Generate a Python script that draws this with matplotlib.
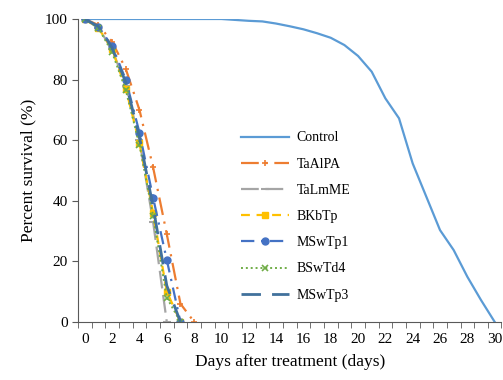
import numpy as np
import matplotlib
matplotlib.use('Agg')
import matplotlib.pyplot as plt

plt.rcParams['font.family'] = ['Liberation Serif', 'DejaVu Serif']

# Survival data (%), one value per day
days = np.arange(0, 31)
control = [100, 100, 100, 100, 100, 100, 100, 100, 100, 100, 100,
           99.7, 99.4, 99.2, 98.5, 97.6, 96.6, 95.3, 93.8, 91.4, 87.8,
           82.6, 73.8, 67.2, 52.3, 41.3, 30.3, 23.7, 14.9, 7.2, 0]
taalpa = [100, 98, 92.5, 83.5, 70, 51, 29, 6, 0]
talmme = [100, 97, 90, 78, 60, 33, 0]
bkbtp = [100, 97, 90, 77, 59, 36, 10, 0]
mswtp1 = [100, 97.5, 91, 80, 62.5, 41, 20.5, 0]
bswtd4 = [100, 97, 89, 76.5, 58.5, 35, 8, 0]
mswtp3 = [100, 97.5, 90.5, 79, 61, 38, 12, 0]

fig = plt.figure(figsize=(5.03, 3.8), dpi=100)
ax = fig.add_axes([0.155, 0.153, 0.842, 0.797])

ax.plot(days, control, '-', color='#5B9BD5', lw=1.6, label='Control')
ax.plot(days[:len(taalpa)], taalpa, color='#ED7D31', lw=1.6,
        dashes=(8, 3, 1, 3), marker='+', ms=5, mew=1.2, label='TaAlPA')
ax.plot(days[:len(talmme)], talmme, color='#A5A5A5', lw=1.6,
        dashes=(8, 3), marker='_', ms=6, mew=1.5, label='TaLmME')
ax.plot(days[:len(bkbtp)], bkbtp, color='#FFC000', lw=1.6,
        dashes=(4, 3), marker='s', ms=4.5, label='BKbTp')
ax.plot(days[:len(mswtp1)], mswtp1, color='#4472C4', lw=1.6,
        dashes=(6, 3, 1, 3), marker='o', ms=5, label='MSwTp1')
ax.plot(days[:len(bswtd4)], bswtd4, color='#70AD47', lw=1.4,
        dashes=(1, 1.5), marker='x', ms=4, mew=1.2, label='BSwTd4')
ax.plot(days[:len(mswtp3)], mswtp3, color='#41719C', lw=2,
        dashes=(7, 4), label='MSwTp3')

ax.set_xlim(-0.5, 30.5)
ax.set_ylim(0, 100)
ax.set_xticks(np.arange(0, 31, 2))
ax.set_xticks(np.arange(-0.5, 31, 1), minor=True)
ax.tick_params(axis='x', which='major', length=0, labelsize=11, pad=8)
ax.tick_params(axis='x', which='minor', length=4, direction='out', color='#595959')
ax.set_yticks(np.arange(0, 101, 20))
ax.tick_params(axis='y', length=4, direction='out', labelsize=11, color='#595959')

for s in ['top', 'right']:
    ax.spines[s].set_visible(False)
ax.spines['left'].set_color('#595959')
ax.spines['bottom'].set_color('#595959')

ax.set_xlabel('Days after treatment (days)', fontsize=12.5, labelpad=6)
ax.set_ylabel('Percent survival (%)', fontsize=12.5, labelpad=6)

ax.legend(loc='upper left', bbox_to_anchor=(0.355, 0.67), frameon=False,
          fontsize=10, handlelength=3.5, labelspacing=0.95, handletextpad=0.5)

fig.savefig('out.png', dpi=100)
